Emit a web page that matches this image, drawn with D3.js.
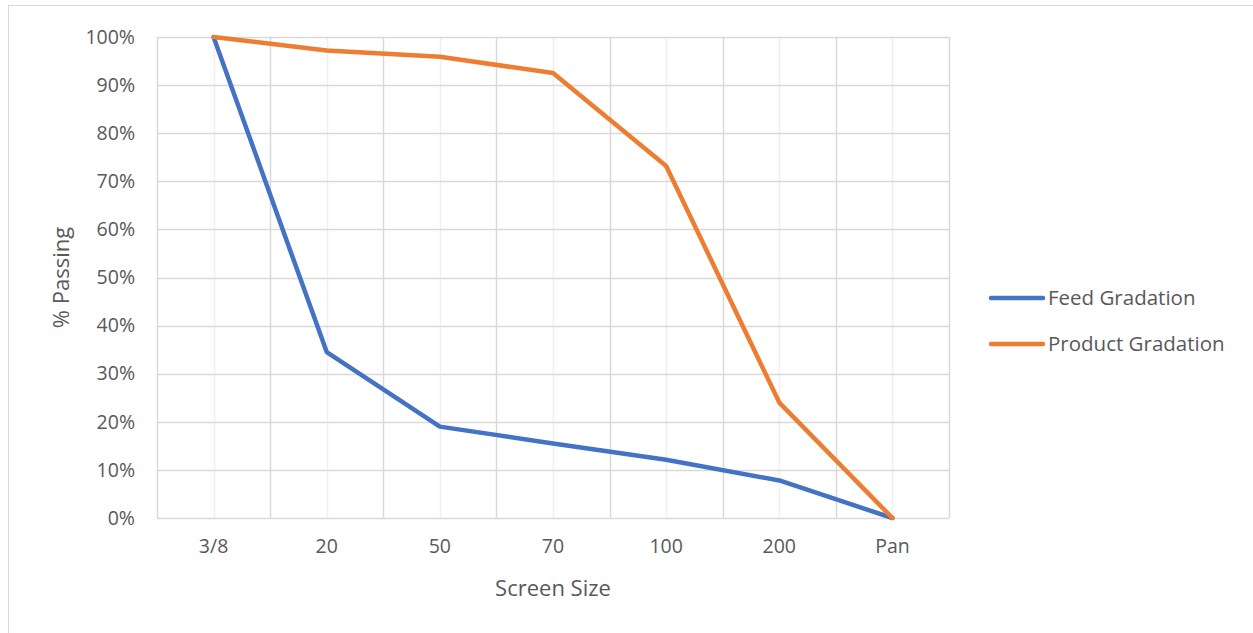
<!DOCTYPE html>
<html>
<head>
<meta charset="utf-8">
<script src="https://cdn.jsdelivr.net/npm/d3@7"></script>
<style>
  body { margin: 0; background: #fff; }
  text { font-family: "Open Sans", Lato, sans-serif; fill: #595959; }
</style>
</head>
<body>
<div id="chart"></div>
<script>
// screen sizes on the x axis
const screens = ["3/8", "20", "50", "70", "100", "200", "Pan"];
// percent passing
const feed = [100, 34.5, 19.0, 15.5, 12.1, 7.8, 0];
const product = [100, 97.2, 95.9, 92.5, 73.2, 24.0, 0];
const yTicks = [0, 10, 20, 30, 40, 50, 60, 70, 80, 90, 100];
const seriesNames = ["Feed Gradation", "Product Gradation"];
const seriesColors = ["#4472C4", "#ED7D31"];

const W = 1253, H = 633;
const margin = {top: 37, right: 304, bottom: 115, left: 157};
const width = W - margin.left - margin.right,
    height = H - margin.top - margin.bottom;

const svg = d3.select("#chart").append("svg")
    .attr("width", W)
    .attr("height", H);

// chart area border (clipped at right/bottom like the picture)
svg.append("rect")
    .attr("x", 8.5).attr("y", 5.5)
    .attr("width", W).attr("height", H)
    .attr("fill", "none")
    .attr("stroke", "#d9d9d9");

const g = svg.append("g")
    .attr("transform", `translate(${margin.left}, ${margin.top})`);

const x = d3.scaleBand()
    .domain(screens)
    .range([0, width])
    .padding(0);

const y = d3.scaleLinear()
    .domain([0, 100])
    .range([height, 0]);

// light gridlines at category centres
g.selectAll(".minor")
    .data(screens)
    .join("line")
    .attr("x1", d => Math.round(x(d) + x.bandwidth() / 2) + 0.5)
    .attr("x2", d => Math.round(x(d) + x.bandwidth() / 2) + 0.5)
    .attr("y1", 0).attr("y2", height)
    .attr("stroke", "#f0f0f0")
    .attr("stroke-width", 1.5);

// darker gridlines between categories
const bounds = screens.map(d => x(d)).concat([width]);
g.selectAll(".major")
    .data(bounds)
    .join("line")
    .attr("x1", d => Math.round(d) + 0.5)
    .attr("x2", d => Math.round(d) + 0.5)
    .attr("y1", 0).attr("y2", height)
    .attr("stroke", "#d9d9d9")
    .attr("stroke-width", 1.5);

// horizontal gridlines
g.selectAll(".hgrid")
    .data(yTicks)
    .join("line")
    .attr("x1", 0).attr("x2", width)
    .attr("y1", d => Math.round(y(d)) + 0.5)
    .attr("y2", d => Math.round(y(d)) + 0.5)
    .attr("stroke", "#d9d9d9")
    .attr("stroke-width", 1.5);

// y axis labels
const yAxis = g.append("g")
    .call(d3.axisLeft(y).tickValues(yTicks).tickFormat(d => d + "%").tickSize(0).tickPadding(22));
yAxis.select(".domain").remove();
yAxis.selectAll("text")
    .style("font-size", "19.5px")
    .attr("fill", "#595959");

// x axis labels
const xAxis = g.append("g")
    .attr("transform", `translate(0, ${height})`)
    .call(d3.axisBottom(x).tickSize(0).tickPadding(21));
xAxis.select(".domain").remove();
xAxis.selectAll("text")
    .style("font-size", "19.5px")
    .attr("fill", "#595959");

// lines
const line = d3.line()
    .x((d, i) => x(screens[i]) + x.bandwidth() / 2)
    .y(d => y(d));

[feed, product].forEach((s, i) => {
    g.append("path")
        .datum(s)
        .attr("d", line)
        .attr("fill", "none")
        .attr("stroke", seriesColors[i])
        .attr("stroke-width", 4.5)
        .attr("stroke-linejoin", "round")
        .attr("stroke-linecap", "round");
});

// axis titles
svg.append("text")
    .attr("x", margin.left + width / 2)
    .attr("y", 596)
    .attr("text-anchor", "middle")
    .style("font-size", "22px")
    .text("Screen Size");

svg.append("text")
    .attr("transform", `translate(69, ${margin.top + height / 2}) rotate(-90)`)
    .attr("text-anchor", "middle")
    .style("font-size", "22px")
    .text("% Passing");

// legend
const legend = svg.append("g")
    .attr("transform", "translate(990, 298)");
seriesNames.forEach((name, i) => {
    const row = legend.append("g").attr("transform", `translate(0, ${i * 46})`);
    row.append("line")
        .attr("x1", 1).attr("x2", 53)
        .attr("stroke", seriesColors[i])
        .attr("stroke-width", 4.5)
        .attr("stroke-linecap", "round");
    row.append("text")
        .attr("x", 58)
        .attr("dy", "0.35em")
        .style("font-size", "20.5px")
        .text(name);
});
</script>
</body>
</html>
